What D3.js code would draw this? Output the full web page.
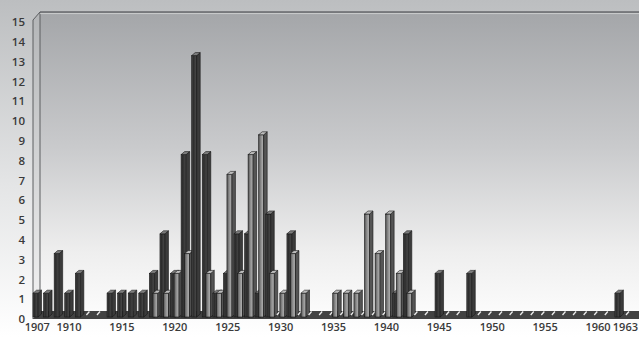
<!DOCTYPE html>
<html>
<head>
<meta charset="utf-8">
<script src="https://cdn.jsdelivr.net/npm/d3@7"></script>
<style>
  html, body { margin: 0; padding: 0; background: #fff; }
  svg { display: block; }
  text { font-family: "Open Sans", "DejaVu Sans", sans-serif; }
</style>
</head>
<body>
<svg id="chart" width="639" height="337"></svg>
<script>
// Categories: one slot per year, 1907 to 1963
const years = d3.range(1907, 1964);

// Dark series (left column of each pair)
const darkValues = [
  1, 1, 3, 1, 2, 0, 0, 1, 1, 1,      // 1907-1916
  1, 2, 4, 2, 8, 13, 8, 1, 2, 4,     // 1917-1926
  4, 1, 5, 0, 4, 0, 0, 0, 0, 0,      // 1927-1936
  0, 0, 0, 0, 1, 4, 0, 0, 2, 0,      // 1937-1946
  0, 2, 0, 0, 0, 0, 0, 0, 0, 0,      // 1947-1956
  0, 0, 0, 0, 0, 1, 0                // 1957-1963
];

// Light series (right column of each pair)
const lightValues = [
  0, 0, 0, 0, 0, 0, 0, 0, 0, 0,      // 1907-1916
  0, 1, 1, 2, 3, 0, 2, 1, 7, 2,      // 1917-1926
  8, 9, 2, 1, 3, 1, 0, 0, 1, 1,      // 1927-1936
  1, 5, 3, 5, 2, 1, 0, 0, 0, 0,      // 1937-1946
  0, 0, 0, 0, 0, 0, 0, 0, 0, 0,      // 1947-1956
  0, 0, 0, 0, 0, 0, 0                // 1957-1963
];

const yTicks = d3.range(0, 16);
const xTickYears = [1907, 1910, 1915, 1920, 1925, 1930, 1935, 1940, 1945, 1950, 1955, 1960, 1963];

const W = 639, H = 337;
const svg = d3.select("#chart");
const defs = svg.append("defs");

// Scales
const x = d3.scaleBand().domain(years).range([32, 32 + years.length * 10.58]).padding(0);
const y = d3.scaleLinear().domain([0, 15]).range([313, 16]);

// 3D geometry
const depthX = 3.5, depthY = 3;
const faceW = 5;
const baseY = 317;
const wallLeft = 33, wallBack = 40, wallTop = 12, floorBack = 311, floorFront = 319;

// Gradients
function linGrad(id, x1, y1, x2, y2, stops) {
  const g = defs.append("linearGradient").attr("id", id)
    .attr("x1", x1).attr("y1", y1).attr("x2", x2).attr("y2", y2);
  stops.forEach(s => g.append("stop").attr("offset", s[0]).attr("stop-color", s[1]));
}
linGrad("bgGrad", 0, 0, 0, 1, [[0, "#bcbec0"], [0.55, "#e4e5e6"], [1, "#ffffff"]]);
linGrad("wallGrad", 0, 0, 0, 1, [[0, "#a4a6a9"], [0.45, "#c9cacc"], [0.8, "#eeeeee"], [1, "#fbfbfb"]]);
linGrad("sideWallGrad", 0, 0, 0, 1, [[0, "#b3b5b7"], [1, "#f4f4f4"]]);
linGrad("darkFace", 0, 0, 1, 0, [[0, "#4a4a4a"], [0.3, "#2c2c2c"], [1, "#4e4e4e"]]);
linGrad("lightFace", 0, 0, 1, 0, [[0, "#505050"], [0.45, "#8c8c8c"], [1, "#b8b8b8"]]);

// Background
svg.append("rect").attr("width", W).attr("height", H).attr("fill", "url(#bgGrad)");

// Back wall
svg.append("rect")
  .attr("x", wallBack).attr("y", wallTop)
  .attr("width", W - wallBack).attr("height", floorBack - wallTop)
  .attr("fill", "url(#wallGrad)");

// Left side wall
svg.append("path")
  .attr("d", `M${wallLeft},${wallTop + 8}L${wallBack},${wallTop}L${wallBack},${floorBack}L${wallLeft},${floorFront}Z`)
  .attr("fill", "url(#sideWallGrad)")
  .attr("stroke", "#5c5e61").attr("stroke-width", 1);

// Top edge of the back wall
svg.append("line")
  .attr("x1", wallBack).attr("x2", W).attr("y1", wallTop).attr("y2", wallTop)
  .attr("stroke", "#67696c").attr("stroke-width", 1.3);
svg.append("line")
  .attr("x1", wallBack).attr("x2", W).attr("y1", wallTop + 1.6).attr("y2", wallTop + 1.6)
  .attr("stroke", "#d4d5d6").attr("stroke-width", 0.8);

// Floor strip
svg.append("path")
  .attr("d", `M${wallLeft},${floorFront}L${wallBack},${floorBack}L${W},${floorBack}L${W},${floorFront}Z`)
  .attr("fill", "#424242");

// Columns
const bars = svg.append("g").attr("class", "bars");

function column(g, x0, v, faceFill, sideFill, topFill) {
  const yt = y(v);
  if (v > 0) {
    g.append("rect")
      .attr("x", x0).attr("y", yt).attr("width", faceW).attr("height", baseY - yt)
      .attr("fill", faceFill).attr("stroke", "#151515").attr("stroke-width", 0.6);
    g.append("path")
      .attr("d", `M${x0 + faceW},${yt}L${x0 + faceW + depthX},${yt - depthY}L${x0 + faceW + depthX},${baseY - depthY}L${x0 + faceW},${baseY}Z`)
      .attr("fill", sideFill).attr("stroke", "#151515").attr("stroke-width", 0.6);
    g.append("path")
      .attr("d", `M${x0},${yt}L${x0 + depthX},${yt - depthY}L${x0 + faceW + depthX},${yt - depthY}L${x0 + faceW},${yt}Z`)
      .attr("fill", topFill).attr("stroke", "#151515").attr("stroke-width", 0.6);
  } else {
    // zero-height column: only its flat cap shows on the floor
    g.append("path")
      .attr("d", `M${x0 + 0.5},${yt + 2}L${x0 + depthX},${yt - depthY + 1.5}`)
      .attr("stroke", "#ececec").attr("stroke-width", 1.3);
  }
}

years.forEach((yr, i) => {
  const g = bars.append("g");
  const bx = x(yr);
  column(g, bx + 1, darkValues[i], "url(#darkFace)", "#3b3b3b", "#7d7d7d");
  if (lightValues[i] > 0) {
    column(g, bx + 4.5, lightValues[i], "url(#lightFace)", "#555555", "#bdbdbd");
  }
});

// Y axis labels
const yAxis = d3.axisLeft(y).tickValues(yTicks).tickSize(0).tickPadding(0).tickFormat(d3.format("d"));
const yg = svg.append("g").attr("transform", "translate(25,6)").call(yAxis);
yg.select(".domain").remove();
yg.selectAll("text")
  .attr("font-size", 11.5).attr("font-weight", 600).attr("fill", "#3a3a3a")
  .attr("font-family", "'Open Sans', 'DejaVu Sans', sans-serif");

// X axis labels
const xAxis = d3.axisBottom(x).tickValues(xTickYears).tickSize(0).tickPadding(0);
const xg = svg.append("g").attr("transform", "translate(0,323)").call(xAxis);
xg.select(".domain").remove();
xg.selectAll("text")
  .attr("font-size", 11).attr("font-weight", 600).attr("fill", "#3a3a3a")
  .attr("font-family", "'Open Sans', 'DejaVu Sans', sans-serif");
// the last year label sits flush against the right edge
xg.selectAll(".tick").filter(d => d === 1963).select("text")
  .attr("text-anchor", "end")
  .attr("x", W - 1 - x(1963) - x.bandwidth() / 2);
</script>
</body>
</html>
